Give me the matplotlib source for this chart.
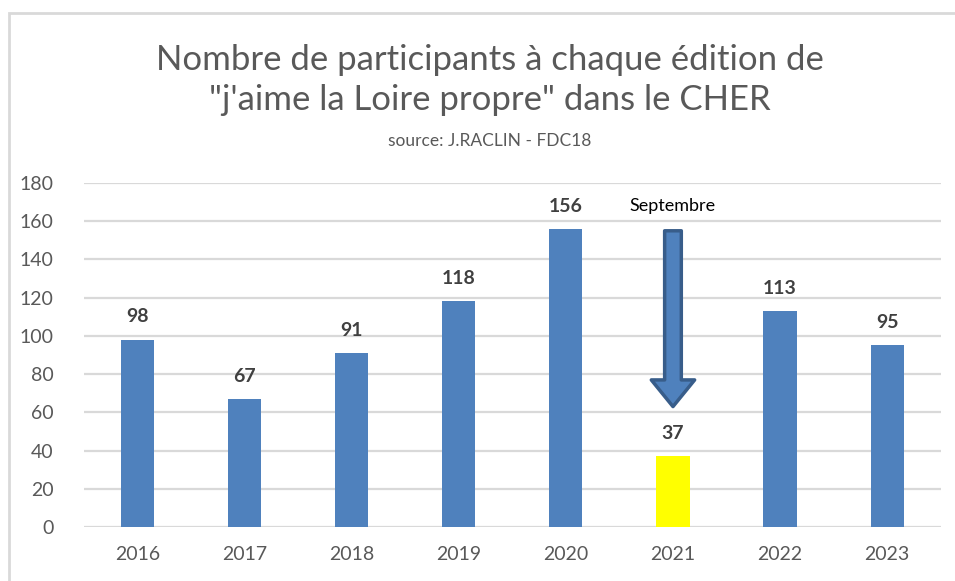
import matplotlib
matplotlib.use("Agg")
import matplotlib.pyplot as plt
from matplotlib.patches import Rectangle

plt.rcParams["font.family"] = ["Lato", "DejaVu Sans"]

years = ["2016", "2017", "2018", "2019", "2020", "2021", "2022", "2023"]
participants = [98, 67, 91, 118, 156, 37, 113, 95]
highlight = "2021"

blue = "#4F81BD"
yellow = "#FFFF00"
grid_col = "#D9D9D9"

fig = plt.figure(figsize=(9.55, 5.81), dpi=100, facecolor="white")
ax = fig.add_axes([0.088, 0.093, 0.897, 0.592])

colors = [yellow if y == highlight else blue for y in years]
x = list(range(len(years)))
ax.bar(x, participants, width=0.31, color=colors, zorder=3)

for xi, v in zip(x, participants):
    ax.text(xi, v + 7.5, str(v), ha="center", va="bottom",
            fontsize=14, fontweight="bold", color="#404040")

ax.set_xlim(-0.5, len(years) - 0.5)
ax.set_ylim(0, 180)
ax.set_yticks(range(0, 181, 20))
ax.set_xticks(x)
ax.set_xticklabels(years)
ax.tick_params(axis="both", length=0, labelsize=14, labelcolor="#595959")
ax.tick_params(axis="x", pad=14)
ax.tick_params(axis="y", pad=22)
ax.yaxis.grid(True, color=grid_col, linewidth=1.6, zorder=0)
for s in ax.spines.values():
    s.set_visible(False)

# arrow for the September edition
hx = years.index(highlight)
ax.annotate("", xy=(hx, 63), xytext=(hx, 155),
            arrowprops=dict(arrowstyle="simple,head_width=2.6,head_length=1.6,tail_width=1.0",
                            mutation_scale=12, facecolor=blue, edgecolor="#385D8A",
                            linewidth=2.5, shrinkA=0, shrinkB=0),
            zorder=4)
ax.text(hx, 168, "Septembre", ha="center", va="center", fontsize=13, color="black")

fig.text(0.513, 0.862, "Nombre de participants à chaque édition de\n\"j'aime la Loire propre\" dans le CHER",
         ha="center", va="center", fontsize=25, color="#595959", linespacing=1.3)
fig.text(0.513, 0.758, "source: J.RACLIN - FDC18", ha="center", va="center",
         fontsize=12.5, color="#595959")

# chart frame
fig.patches.append(Rectangle((0.009, -0.05), 1.2, 1.028, transform=fig.transFigure,
                             fill=False, edgecolor=grid_col, linewidth=2.0))

fig.savefig("out.png", dpi=100, facecolor="white")
